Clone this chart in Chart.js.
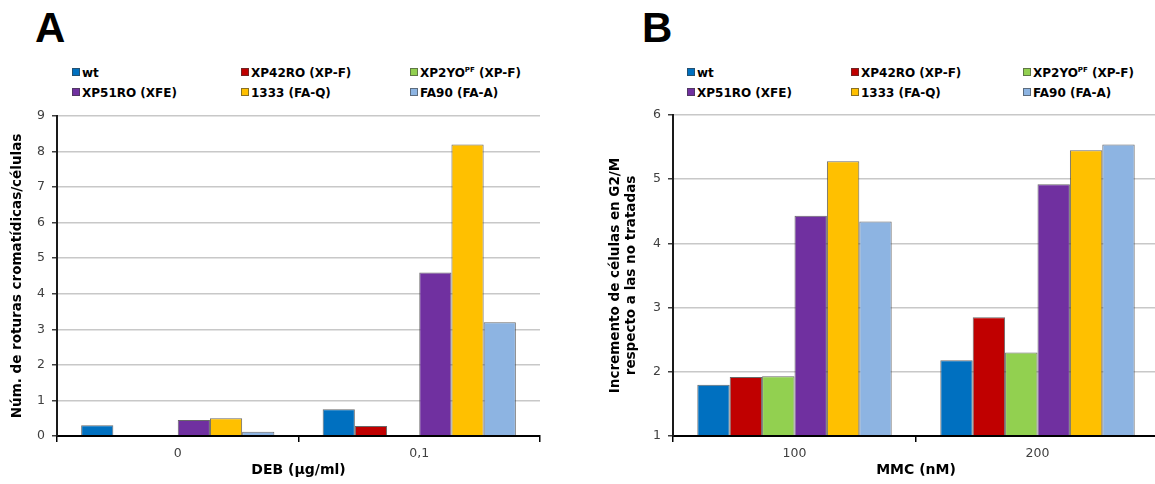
<!DOCTYPE html>
<html>
<head>
<meta charset="utf-8">
<script src="https://cdn.jsdelivr.net/npm/chart.js@4/dist/chart.umd.min.js"></script>
<style>
    html, body {
        margin: 0;
        padding: 0;
        background: #ffffff;
        width: 1155px;
        height: 484px;
        overflow: hidden;
        position: relative;
    }
    .panel-letter {
        position: absolute;
        top: 7px;
        font: bold 42px 'Liberation Sans', Arial, sans-serif;
        line-height: 42px;
        color: #000;
    }
    .chart-box {
        position: absolute;
        top: 100px;
        height: 384px;
    }
    .legend-item {
        position: absolute;
        font: bold 12px 'DejaVu Sans', sans-serif;
        line-height: 14px;
        color: #000;
        white-space: nowrap;
    }
    .legend-item .swatch {
        display: inline-block;
        width: 6px;
        height: 6px;
        border: 1px solid rgba(60, 60, 60, 0.6);
        margin-right: 2px;
        vertical-align: 1px;
    }
    .legend-item sup {
        font-size: 7px;
        line-height: 0;
        vertical-align: 5px;
    }
</style>
</head>
<body>
<div class="panel-letter" style="left: 35px;">A</div>
<div class="panel-letter" style="left: 642px;">B</div>
<div id="legendA"></div>
<div id="legendB"></div>
<div class="chart-box" style="left: 0px; width: 550px;"><canvas id="chartA"></canvas></div>
<div class="chart-box" style="left: 580px; width: 579px;"><canvas id="chartB"></canvas></div>

<script>
// categories (x axis)
const debCategories = ['0', '0,1'];
const mmcCategories = ['100', '200'];

// cell lines, same order in both panels
const seriesLabels = ['wt', 'XP42RO (XP-F)', 'XP2YO<sup>PF</sup> (XP-F)', 'XP51RO (XFE)', '1333 (FA-Q)', 'FA90 (FA-A)'];
const seriesColors = ['#0070c0', '#c00000', '#92d050', '#7030a0', '#ffc000', '#8db4e2'];

// panel A: chromatid breaks per cell after DEB
const debWt     = [0.3, 0.75];
const debXP42RO = [0, 0.28];
const debXP2YO  = [0.03, 0];
const debXP51RO = [0.45, 4.6];
const deb1333   = [0.5, 8.2];
const debFA90   = [0.12, 3.2];

// panel B: G2/M increase after MMC
const mmcWt     = [1.8, 2.18];
const mmcXP42RO = [1.92, 2.85];
const mmcXP2YO  = [1.93, 2.3];
const mmcXP51RO = [4.43, 4.92];
const mmc1333   = [5.28, 5.45];
const mmcFA90   = [4.34, 5.54];

// y axis ticks
const debTicks = { min: 0, max: 9, step: 1 };
const mmcTicks = { min: 1, max: 6, step: 1 };

Chart.defaults.font.family = "'DejaVu Sans', sans-serif";
Chart.defaults.animation = false;

// Build the 3 x 2 legend above a chart
function buildLegend(containerId, columns, rows) {
    var box = document.getElementById(containerId);
    seriesLabels.forEach(function (label, i) {
        var item = document.createElement('div');
        item.className = 'legend-item';
        item.style.left = columns[i % 3] + 'px';
        item.style.top = rows[Math.floor(i / 3)] + 'px';
        item.innerHTML = '<span class="swatch" style="background:' + seriesColors[i] + '"></span>' + label;
        box.appendChild(item);
    });
}

function groupedBarChart(canvasId, labels, series, ticks, yTitle, xTitle, sizes) {
    var datasets = series.map(function (values, i) {
        return {
            label: seriesLabels[i].replace(/<[^>]+>/g, ''),
            data: values,
            backgroundColor: seriesColors[i],
            borderColor: 'rgba(55, 55, 55, 0.75)',
            borderWidth: 1,
            categoryPercentage: 0.8,
            barPercentage: 1.0
        };
    });

    var ctx = document.getElementById(canvasId).getContext('2d');
    return new Chart(ctx, {
        type: 'bar',
        data: { labels: labels, datasets: datasets },
        options: {
            responsive: true,
            maintainAspectRatio: false,
            layout: { padding: { top: sizes.top, right: sizes.right, bottom: 0, left: 0 } },
            plugins: {
                legend: { display: false },
                tooltip: { enabled: false }
            },
            scales: {
                x: {
                    afterFit: function (scale) { scale.height = 48; },
                    grid: {
                        display: true,
                        drawOnChartArea: false,
                        offset: true,
                        tickLength: 6,
                        tickColor: '#000',
                        lineWidth: 1.5
                    },
                    border: { display: true, color: '#000', width: 2, z: 1 },
                    ticks: {
                        padding: 4,
                        color: '#404040',
                        font: { size: 12.5 }
                    },
                    title: {
                        display: true,
                        text: xTitle,
                        color: '#000',
                        font: { size: 14, weight: 'bold' },
                        padding: { top: 0, bottom: 5 }
                    }
                },
                y: {
                    min: ticks.min,
                    max: ticks.max,
                    afterFit: function (scale) { scale.width = sizes.yWidth; },
                    grid: {
                        color: '#c8c8c8',
                        lineWidth: 1.5,
                        tickLength: 5,
                        tickColor: '#404040'
                    },
                    border: { display: true, color: '#1a1a1a', width: 2, z: 1 },
                    ticks: {
                        stepSize: ticks.step,
                        padding: 7,
                        color: '#404040',
                        font: { size: 12.5 }
                    },
                    title: {
                        display: true,
                        text: yTitle,
                        color: '#000',
                        font: { size: 13.5, weight: 'bold' },
                        padding: { top: sizes.titleOffset, bottom: 0 }
                    }
                }
            }
        }
    });
}

document.addEventListener('DOMContentLoaded', function () {
    buildLegend('legendA', [72, 241, 410], [66, 86]);
    buildLegend('legendB', [687, 851, 1023], [66, 86]);

    groupedBarChart('chartA', debCategories,
        [debWt, debXP42RO, debXP2YO, debXP51RO, deb1333, debFA90],
        debTicks,
        'Núm. de roturas cromatídicas/células',
        'DEB (µg/ml)',
        { top: 16, right: 10, yWidth: 57, titleOffset: 9 });

    groupedBarChart('chartB', mmcCategories,
        [mmcWt, mmcXP42RO, mmcXP2YO, mmcXP51RO, mmc1333, mmcFA90],
        mmcTicks,
        ['Incremento de células en G2/M', 'respecto a las no tratadas'],
        'MMC (nM)',
        { top: 15, right: 0, yWidth: 93, titleOffset: 27 });
});
</script>
</body>
</html>
